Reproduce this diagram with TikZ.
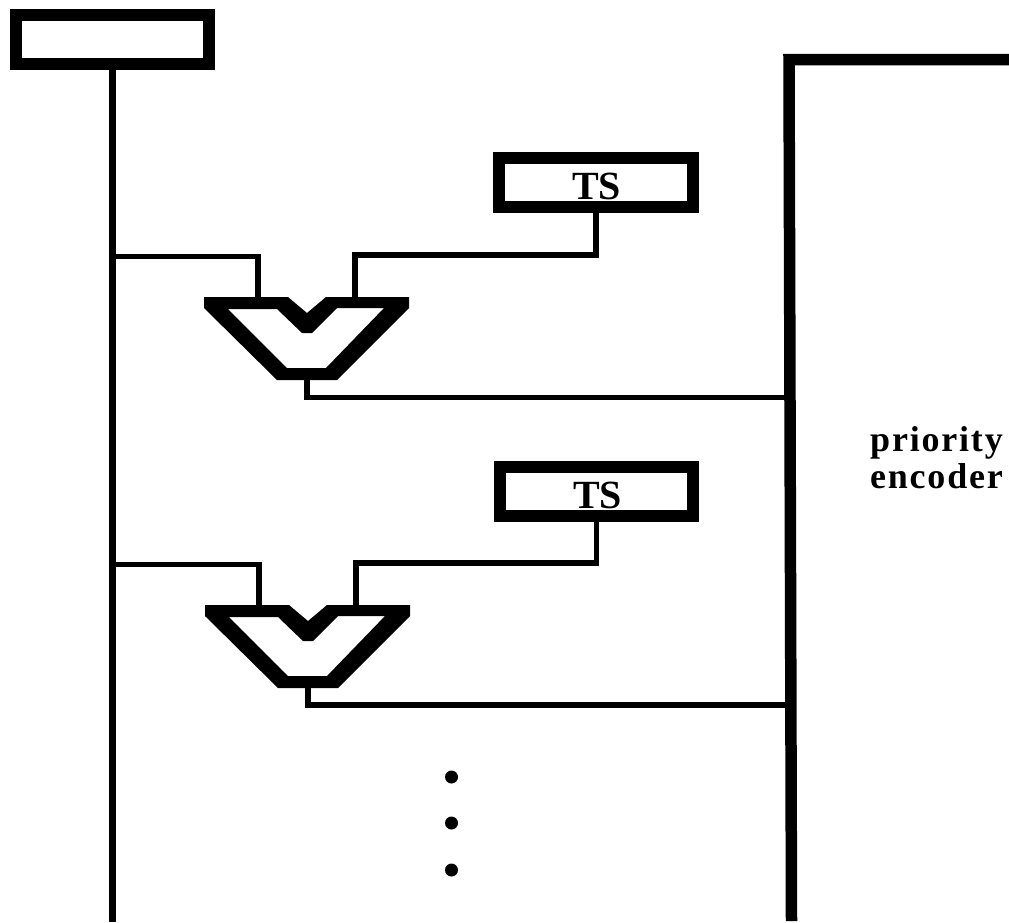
\documentclass[tikz,border=0pt]{standalone}
\usepackage{fontspec}
\setmainfont{Liberation Serif}
\newfontfamily\spacedfont[LetterSpace=5]{Liberation Serif}
\usepackage{tikz}
\usetikzlibrary{positioning, calc}

\begin{document}
\begin{tikzpicture}[
  x=1pt, y=-1pt,
  regbox/.style={draw, rectangle, line width=12pt, fill=white, inner sep=0pt, minimum width=193.5pt, minimum height=49pt},
  wire/.style={draw, line width=5.8pt},
  busline/.style={draw, line width=7pt},
  encline/.style={draw, line width=11.5pt},
  tslabel/.style={font=\bfseries\fontsize{40}{40}\selectfont, anchor=base, inner sep=0pt},
  enclabel/.style={font=\spacedfont\bfseries\fontsize{36}{37}\selectfont, align=center, inner sep=0pt},
  dotmark/.style={circle, fill=black, inner sep=0pt, minimum size=13pt},
  comparator/.pic={
    \fill[even odd rule] (-103,0) -- (-19,0) -- (0,16) -- (19,0) -- (102,0) -- (102,11) -- (30,83) -- (-30,83) -- (-103,11) -- cycle
      (-79,12) -- (-30,12) -- (-5,36) -- (5,36) -- (30,11) -- (77,11) -- (19,71) -- (-20,71) -- cycle;
    \coordinate (-ina) at (-49,0);
    \coordinate (-inb) at (48,0);
    \coordinate (-out) at (0,83);
  }
]
\useasboundingbox (0,0) rectangle (1009,922);
\node[regbox] (top) at (112.25,39) {};
\coordinate (busend) at (top.south |- 0,922);
\draw[busline] (top.south) -- (busend);
\coordinate (encend) at (791.5,921);
\coordinate (enccorner) at (789,59.5);
\coordinate (enctop) at (1009,59.5);
\draw[encline] (enctop) -- (enccorner) -- (encend);

\node[regbox] (ts1) at (595.75,182.5) {};
\node[regbox] (ts2) at (596.5,491.5) {};
\pic (g1) at (307,297) {comparator};
\pic (g2) at (308,605) {comparator};

\coordinate (tap1) at (busend |- 0,256.5);
\coordinate (tap2) at (busend |- 0,564.5);
\coordinate (enc1) at (encend |- 0,397.5);
\coordinate (enc2) at (encend |- 0,705);

\draw[wire] (tap1) -| (g1-ina);
\draw[wire] (ts1.south) |- ($(g1-inb)+(0,-42)$) -- (g1-inb);
\draw[wire] (g1-out) |- (enc1);
\draw[wire] (tap2) -| (g2-ina);
\draw[wire] (ts2.south) |- ($(g2-inb)+(0,-42)$) -- (g2-inb);
\draw[wire] (g2-out) |- (enc2);

\node[tslabel] (ts1text) at (596.7,199) {TS};
\node[tslabel] (ts2text) at (597.5,508) {TS};
\node[enclabel] (enclab) at (936.5,458) {priority\\encoder};
\node[dotmark] (dot1) at (451.5,777) {};
\node[dotmark] (dot2) at (451.5,823) {};
\node[dotmark] (dot3) at (451.5,870) {};
\end{tikzpicture}
\end{document}
